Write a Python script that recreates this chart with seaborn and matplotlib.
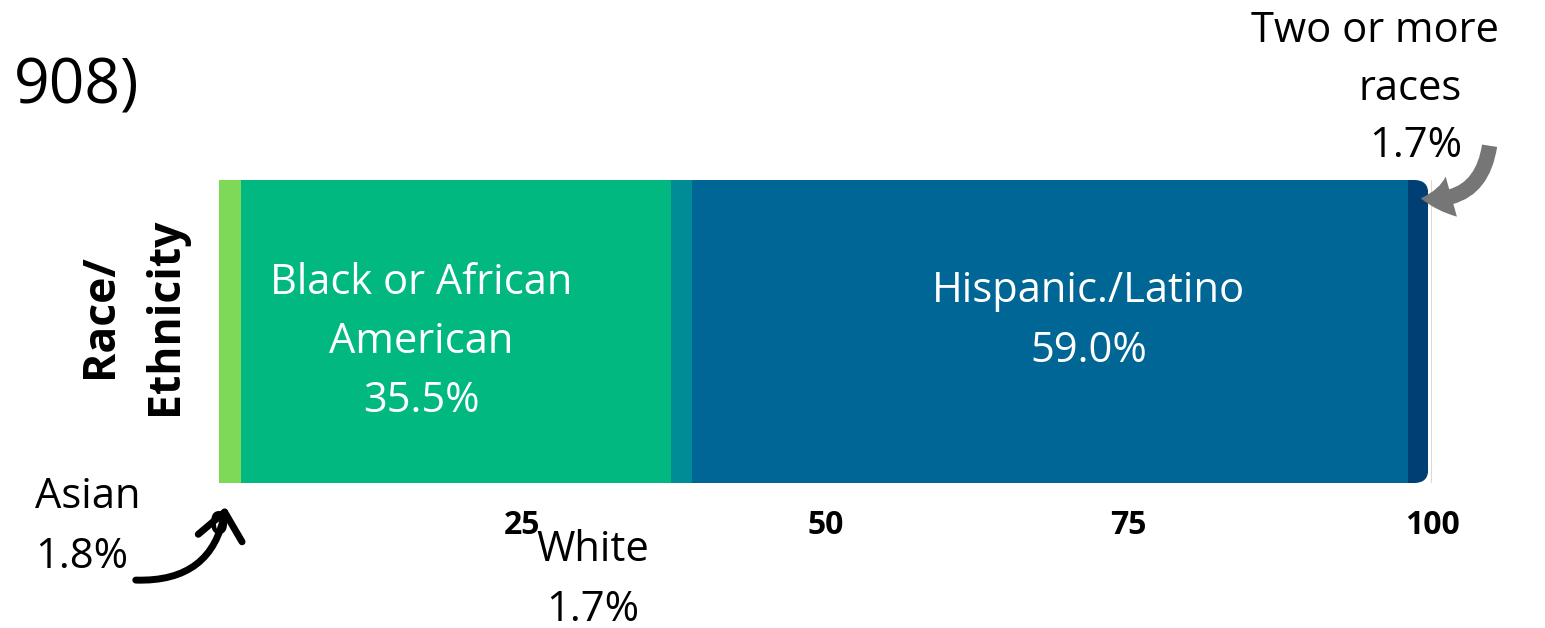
import matplotlib
matplotlib.use("Agg")
import matplotlib.pyplot as plt
import matplotlib.transforms as mtransforms
from matplotlib.patches import FancyBboxPatch
import seaborn as sns
import numpy as np

# ---- data ----
categories = ["Asian", "Black or African American", "White", "Hispanic./Latino", "Two or more races"]
values = [1.8, 35.5, 1.7, 59.0, 1.7]
colors = ["#7ED957", "#00B880", "#008C96", "#006695", "#003F73"]
tick_values = [0, 25, 50, 75, 100]
tick_labels = ["0", "25", "50", "75", "100"]
row_name = "Race/Ethnicity"
row_label = "Race/\nEthnicity"
title_fragment = "908)"

sns.set_theme(style="white")
plt.rcParams["font.family"] = ["Open Sans", "DejaVu Sans"]

W, H = 1545, 628
fig = plt.figure(figsize=(W / 100, H / 100), dpi=100)
ax = fig.add_axes([219 / W, (H - 483) / H, 1213 / W, 303 / H])

cum = np.cumsum(values)
for i in range(len(values) - 1, -1, -1):
    sns.barplot(x=[cum[i]], y=[row_name], color=colors[i], saturation=1,
                orient="h", width=0.8, errorbar=None, linewidth=0,
                edgecolor="none", ax=ax)

ax.set_xlim(0, 100)
ax.set_ylim(0.4, -0.4)

# rounded right end of the stacked bar
x0, y0 = ax.transData.transform((0, 0.4))
x1, y1 = ax.transData.transform((cum[-1], -0.4))
clip = FancyBboxPatch((x0 - 40, y0), (x1 - x0) + 40, (y1 - y0),
                      boxstyle="round,pad=0,rounding_size=14",
                      transform=mtransforms.IdentityTransform(),
                      facecolor="none", edgecolor="none")
for p in ax.patches:
    p.set_clip_path(clip)

ax.set_xticks(tick_values, tick_labels)
for lab in ax.get_xticklabels():
    lab.set_fontweight("bold")
    lab.set_fontsize(23)
    lab.set_color("black")
ax.tick_params(axis="x", length=0, pad=19)
ax.set_yticks([])
ax.set_xlabel("")
ax.set_ylabel("")
for s in ax.spines.values():
    s.set_visible(False)
ax.grid(axis="x", color="#d9d9d9", linewidth=1.5)
ax.grid(axis="y", visible=False)
ax.set_axisbelow(True)

LS = 1.54
blend = mtransforms.blended_transform_factory(ax.transData, ax.transAxes)
ax.text(16.7, 0.465, f"Black or African\nAmerican\n{values[1]:.1f}%", transform=blend,
        ha="center", va="center", color="white", fontsize=30, linespacing=LS,
        multialignment="center")
ax.text(71.7, 0.535, f"{categories[3]}\n{values[3]:.1f}%", transform=blend,
        ha="center", va="center", color="white", fontsize=30, linespacing=LS,
        multialignment="center")

fig.text(1375 / W, (H - 42) / H, "Two or more", ha="center", va="baseline",
         fontsize=30, color="black")
fig.text(1462 / W, (H - 100) / H, "races", ha="right", va="baseline",
         fontsize=30, color="black")
fig.text(1462 / W, (H - 157) / H, f"{values[4]:.1f}%", ha="right", va="baseline",
         fontsize=30, color="black")
fig.text(35 / W, 101 / H, f"{categories[0]}\n{values[0]:.1f}%", ha="left", va="center",
         fontsize=30, linespacing=LS, multialignment="left", color="black")
fig.text(593 / W, 48 / H, f"{categories[2]}\n{values[2]:.1f}%", ha="center", va="center",
         fontsize=30, linespacing=LS, multialignment="center", color="black")

fig.text(14 / W, (H - 87) / H, title_fragment, ha="left", va="center", fontsize=45, color="black")
fig.text(133 / W, 312 / H, row_label, rotation=90, ha="center", va="center",
         fontsize=32, fontweight="bold", linespacing=1.6, multialignment="center", color="black")

# arrows
ax.annotate("", xy=(226, 124), xytext=(133, 48), xycoords="figure pixels",
            textcoords="figure pixels", annotation_clip=False,
            arrowprops=dict(arrowstyle="->,head_length=0.95,head_width=0.8",
                            connectionstyle="arc3,rad=0.45", color="black", lw=5,
                            mutation_scale=20, capstyle="round", joinstyle="round"))
ax.annotate("", xy=(1418, 430), xytext=(1490, 485), xycoords="figure pixels",
            textcoords="figure pixels", annotation_clip=False,
            arrowprops=dict(arrowstyle="simple,head_length=1.1,head_width=1.5,tail_width=0.55",
                            connectionstyle="arc3,rad=-0.5", color="#767676",
                            mutation_scale=20, lw=0))

fig.savefig("out.png", dpi=100)
